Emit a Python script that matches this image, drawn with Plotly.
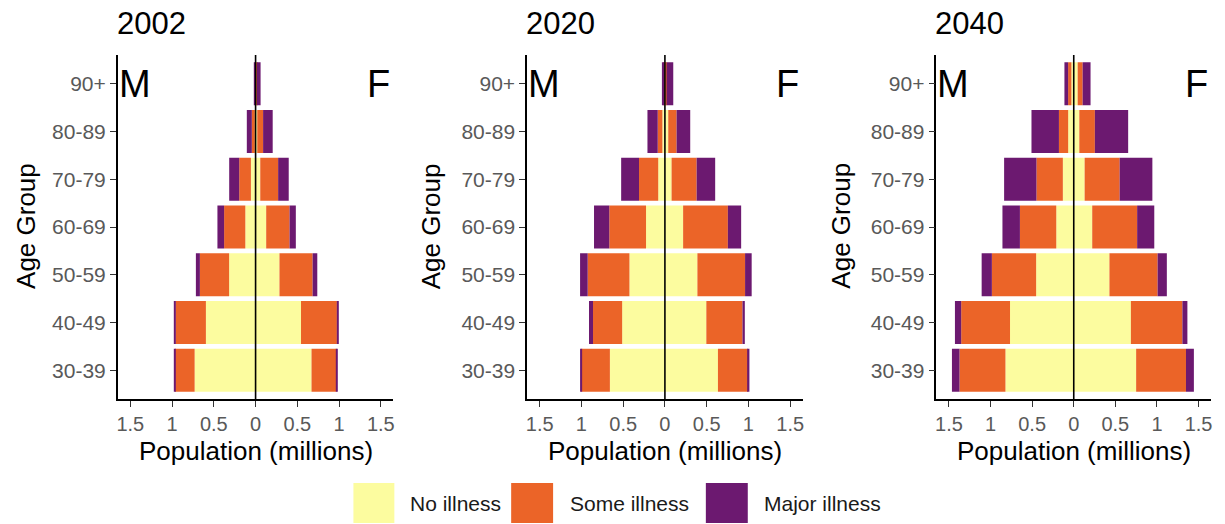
import plotly.graph_objects as go

# ---------------- data ----------------
age_groups = ["30-39", "40-49", "50-59", "60-69", "70-79", "80-89", "90+"]
years = ["2002", "2020", "2040"]
levels = ["No illness", "Some illness", "Major illness"]
colors = ["#FCFC9F", "#EB6428", "#6C1970"]

# values in millions, ordered as age_groups
m_no_2002 = [0.73, 0.595, 0.317, 0.123, 0.056, 0.010, 0.003]
m_some_2002 = [0.235, 0.365, 0.350, 0.254, 0.140, 0.035, 0.005]
m_major_2002 = [0.003, 0.008, 0.048, 0.080, 0.120, 0.060, 0.010]
f_no_2002 = [0.670, 0.544, 0.286, 0.127, 0.056, 0.020, 0.005]
f_some_2002 = [0.300, 0.430, 0.397, 0.280, 0.214, 0.070, 0.010]
f_major_2002 = [0.006, 0.015, 0.056, 0.075, 0.127, 0.115, 0.045]

m_no_2020 = [0.659, 0.512, 0.425, 0.226, 0.080, 0.030, 0.005]
m_some_2020 = [0.341, 0.349, 0.500, 0.440, 0.230, 0.056, 0.005]
m_major_2020 = [0.016, 0.048, 0.091, 0.183, 0.214, 0.123, 0.026]
f_no_2020 = [0.635, 0.496, 0.389, 0.218, 0.080, 0.040, 0.010]
f_some_2020 = [0.361, 0.433, 0.571, 0.536, 0.300, 0.100, 0.010]
f_major_2020 = [0.016, 0.028, 0.079, 0.159, 0.222, 0.163, 0.080]

m_no_2040 = [0.821, 0.766, 0.452, 0.210, 0.131, 0.067, 0.028]
m_some_2040 = [0.552, 0.587, 0.532, 0.437, 0.317, 0.111, 0.040]
m_major_2040 = [0.091, 0.075, 0.123, 0.210, 0.389, 0.330, 0.044]
f_no_2040 = [0.750, 0.687, 0.429, 0.222, 0.131, 0.067, 0.047]
f_some_2040 = [0.599, 0.619, 0.579, 0.540, 0.421, 0.187, 0.060]
f_major_2040 = [0.095, 0.060, 0.111, 0.206, 0.393, 0.400, 0.095]

x_tickvals = [-1.5, -1, -0.5, 0, 0.5, 1, 1.5]
x_ticktext = ["1.5", "1", "0.5", "0", "0.5", "1", "1.5"]

male = {
    "2002": [m_no_2002, m_some_2002, m_major_2002],
    "2020": [m_no_2020, m_some_2020, m_major_2020],
    "2040": [m_no_2040, m_some_2040, m_major_2040],
}
female = {
    "2002": [f_no_2002, f_some_2002, f_major_2002],
    "2020": [f_no_2020, f_some_2020, f_major_2020],
    "2040": [f_no_2040, f_some_2040, f_major_2040],
}

# ---------------- layout helpers ----------------
W, H = 1225, 524
FONT = "Liberation Sans, Arial, sans-serif"


def px(x):
    return x / W


def py(y):
    return 1 - y / H


panel_px = [(117, 393), (527, 803), (937, 1212)]
ytitle_px = [25, 431, 841]
plot_top, plot_bottom = 55, 399

fig = go.Figure()
layout = dict(
    width=W, height=H,
    margin=dict(l=0, r=0, t=0, b=0),
    paper_bgcolor="white", plot_bgcolor="white",
    barmode="relative", bargap=0.1,
    showlegend=False,
    font=dict(family=FONT, color="black"),
)
shapes = []
annotations = []

for i, yr in enumerate(years):
    sfx = "" if i == 0 else str(i + 1)
    xa = "x" + sfx
    ya = "y" + sfx
    for k, lev in enumerate(levels):
        fig.add_trace(go.Bar(
            y=age_groups, x=[-v for v in male[yr][k]], orientation="h",
            marker=dict(color=colors[k], line=dict(width=0)),
            name=lev, xaxis=xa, yaxis=ya,
            hovertemplate="M %{y}: %{customdata}<extra>" + lev + "</extra>",
            customdata=male[yr][k],
        ))
        fig.add_trace(go.Bar(
            y=age_groups, x=female[yr][k], orientation="h",
            marker=dict(color=colors[k], line=dict(width=0)),
            name=lev, xaxis=xa, yaxis=ya,
            hovertemplate="F %{y}: %{x}<extra>" + lev + "</extra>",
        ))
    l, r = panel_px[i]
    layout["xaxis" + sfx] = dict(
        domain=[px(l), px(r)], range=[-1.65, 1.65], anchor=ya,
        tickvals=x_tickvals, ticktext=x_ticktext,
        showline=True, linecolor="black", linewidth=1.6,
        ticks="outside", ticklen=6, tickwidth=1.3, tickcolor="#333333",
        showgrid=False, zeroline=False, fixedrange=True,
        tickfont=dict(family=FONT, size=20, color="#595959"),
    )
    layout["yaxis" + sfx] = dict(
        domain=[py(plot_bottom), py(plot_top)], range=[-0.6, 6.6], anchor=xa,
        type="category", categoryorder="array", categoryarray=age_groups,
        showline=True, linecolor="black", linewidth=1.6,
        ticks="outside", ticklen=6, tickwidth=1.3, tickcolor="#333333",
        showgrid=False, zeroline=False, fixedrange=True,
        tickfont=dict(family=FONT, size=21, color="#595959"),
    )
    # zero line
    shapes.append(dict(type="line", xref=xa, yref=ya + " domain",
                       x0=0, x1=0, y0=0, y1=1, layer="above",
                       line=dict(color="black", width=1.6)))
    # panel title
    annotations.append(dict(text=yr, xref="paper", yref="paper",
                            x=px(l - 3), y=py(24), xanchor="left", yanchor="middle",
                            showarrow=False, font=dict(size=31, color="black", family=FONT)))
    # M / F
    annotations.append(dict(text="M", xref=xa, yref=ya, x=-1.45, y="90+",
                            xanchor="center", yanchor="middle", showarrow=False,
                            font=dict(size=38, color="black", family=FONT)))
    annotations.append(dict(text="F", xref=xa, yref=ya, x=1.47, y="90+",
                            xanchor="center", yanchor="middle", showarrow=False,
                            font=dict(size=38, color="black", family=FONT)))
    # axis titles
    annotations.append(dict(text="Population (millions)", xref=xa, yref="paper",
                            x=0, y=py(451), xanchor="center", yanchor="middle",
                            showarrow=False, font=dict(size=26, color="black", family=FONT)))
    annotations.append(dict(text="Age Group", xref="paper", yref="paper",
                            x=px(ytitle_px[i]), y=py(226), xanchor="center", yanchor="middle",
                            textangle=-90, showarrow=False,
                            font=dict(size=26, color="black", family=FONT)))

# custom legend (large keys as in the reference)
legend_keys = [(353, 394, 408), (511, 553, 568), (706, 748, 762)]
for k, lev in enumerate(levels):
    x0, x1, tx = legend_keys[k]
    shapes.append(dict(type="rect", xref="paper", yref="paper",
                       x0=px(x0), x1=px(x1), y0=py(523), y1=py(483),
                       fillcolor=colors[k], line=dict(width=0)))
    annotations.append(dict(text=lev, xref="paper", yref="paper",
                            x=px(tx), y=py(503), xanchor="left", yanchor="middle",
                            showarrow=False, font=dict(size=21, color="#1a1a1a", family=FONT)))

layout["shapes"] = shapes
layout["annotations"] = annotations
fig.update_layout(**layout)
fig.write_html("out.html", config={"displayModeBar": False},
               post_script="document.body.style.margin='0';document.body.style.padding='0';")
